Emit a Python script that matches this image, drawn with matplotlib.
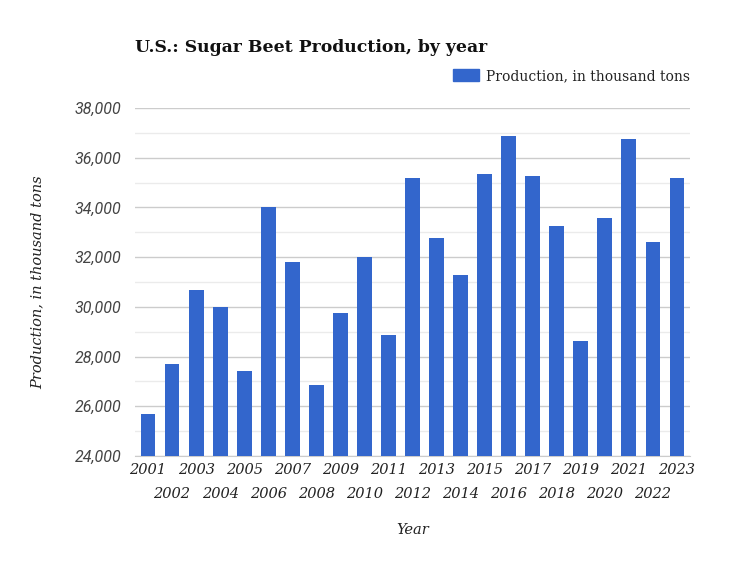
import matplotlib
matplotlib.use("Agg")
import matplotlib.pyplot as plt
from matplotlib.ticker import FuncFormatter, MultipleLocator
from matplotlib.patches import Patch

years = [str(y) for y in range(2001, 2024)]
production = [25670, 27690, 30670, 30000, 27410, 34020, 31800, 26840, 29750, 32000,
              28860, 35190, 32770, 31280, 35350, 36880, 35270, 33250, 28620, 33580,
              36760, 32610, 35190]
title = "U.S.: Sugar Beet Production, by year"
series_name = "Production, in thousand tons"
x_label = "Year"
y_label = "Production, in thousand tons"

bar_color = "#3366CC"
serif = ["DejaVu Serif"]
sans = ["Roboto", "DejaVu Sans"]

fig = plt.figure(figsize=(7.5, 5.63), dpi=100)
ax = fig.add_axes([135/750, 1-456/563, (690-135)/750, (456-108)/563])

x = list(range(len(years)))
ax.bar(x, production, width=0.62, color=bar_color, zorder=3)

ax.set_xlim(-0.54, len(years) - 1 + 0.54)
ax.set_ylim(24000, 38000)
ax.yaxis.set_major_locator(MultipleLocator(2000))
ax.yaxis.set_minor_locator(MultipleLocator(1000))
ax.yaxis.set_major_formatter(FuncFormatter(lambda v, p: f"{int(v):,}"))
ax.grid(axis="y", which="major", color="#cccccc", linewidth=1, zorder=0)
ax.grid(axis="y", which="minor", color="#ebebeb", linewidth=1, zorder=0)
for s in ["top", "right", "left"]:
    ax.spines[s].set_visible(False)
ax.spines["bottom"].set_color("#cccccc")
ax.tick_params(axis="y", which="both", length=0, pad=10, labelsize=11.5, labelcolor="#444444")
for lab in ax.get_yticklabels():
    lab.set_fontstyle("italic")
    lab.set_family(sans)

ax.set_xticks(x)
ax.set_xticklabels(years)
ax.tick_params(axis="x", length=0, labelsize=10.5, labelcolor="#222222")
for i, tick in enumerate(ax.xaxis.get_major_ticks()):
    tick.set_pad(5 if i % 2 == 0 else 22)
    tick.label1.set_fontstyle("italic")
    tick.label1.set_family(serif)

ax.set_xlabel(x_label, fontsize=10.5, fontstyle="italic", family=serif, color="#222222", labelpad=16)
ax.set_ylabel(y_label, fontsize=10.5, fontstyle="italic", family=serif, color="#222222")
ax.yaxis.set_label_coords(-(135 - 45) / 555, 0.5)

fig.text(135/750, 1-48/563, title, fontsize=12.4, fontweight="bold", family=serif,
         color="#111111", va="center", ha="left")

leg = fig.legend(handles=[Patch(color=bar_color, label=series_name)],
                 loc="center right", bbox_to_anchor=(702/750, 1-76/563),
                 frameon=False, prop={"family": serif, "size": 10},
                 handlelength=1.9, handleheight=0.9, handletextpad=0.45)
for t in leg.get_texts():
    t.set_color("#222222")

fig.savefig("out.png", dpi=100, facecolor="white")
